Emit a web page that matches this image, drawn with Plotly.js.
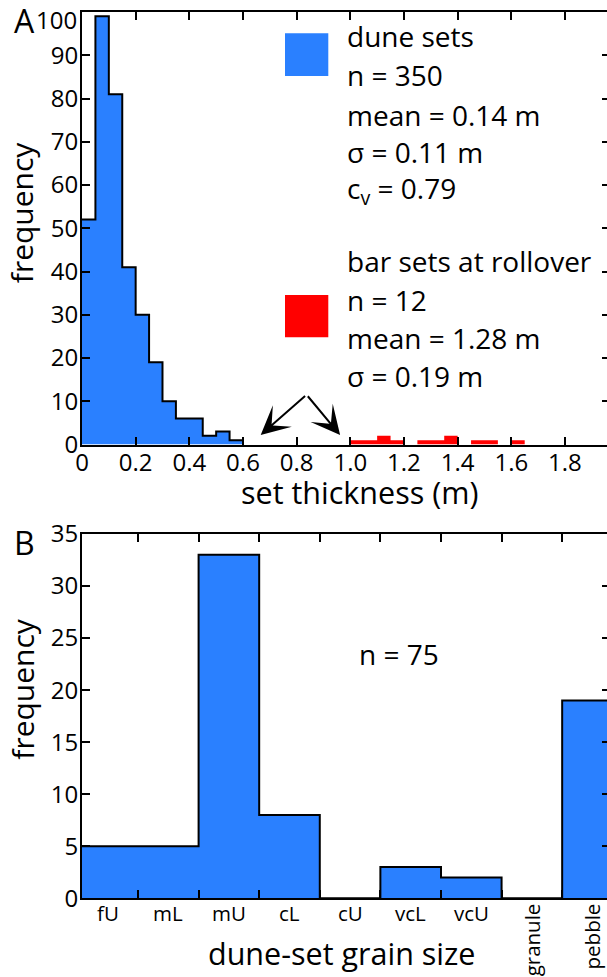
<!DOCTYPE html>
<html><head><meta charset="utf-8">
<script src="https://cdn.plot.ly/plotly-3.0.1.min.js"></script>
<style>html,body{margin:0;padding:0;overflow:hidden;background:#fff}#chart{width:617px;height:977px}</style>
</head><body><div id="chart"></div>
<script>
// ---- data ----
const duneBinEdges = [0, 0.05, 0.10, 0.15, 0.20, 0.25, 0.30, 0.35, 0.40, 0.45, 0.50, 0.55, 0.60];
const duneCounts   = [52, 99, 81, 41, 30, 19, 10, 6, 6, 2, 3, 1];
const barBinEdges  = [1.00, 1.05, 1.10, 1.15, 1.20, 1.25, 1.30, 1.35, 1.40, 1.45, 1.50, 1.55, 1.60, 1.65];
const barCounts    = [1, 1, 2, 1, 0, 1, 1, 2, 0, 1, 1, 0, 1];
const thicknessTicks    = [0, 0.2, 0.4, 0.6, 0.8, 1.0, 1.2, 1.4, 1.6, 1.8];
const thicknessTickText = ['0', '0.2', '0.4', '0.6', '0.8', '1.0', '1.2', '1.4', '1.6', '1.8'];
const freqTicksA = [0, 10, 20, 30, 40, 50, 60, 70, 80, 90, 100];
const grainCategories = ['fU', 'mL', 'mU', 'cL', 'cU', 'vcL', 'vcU', 'granule', 'pebble'];
const grainCounts     = [5, 5, 33, 8, 0, 3, 2, 0, 19];
const freqTicksB = [0, 5, 10, 15, 20, 25, 30, 35];
const duneStats = ['dune sets', 'n = 350', 'mean = 0.14 m', 'σ = 0.11 m', 'c<sub>v</sub> = 0.79'];
const barStats  = ['bar sets at rollover', 'n = 12', 'mean = 1.28 m', 'σ = 0.19 m'];
const grainN = 'n = 75';

// ---- styling ----
const W = 617, H = 977;
const BLUE = '#2a80ff', RED = '#ff0000';
const FONT = 'Open Sans';
const px = x => x / W, py = y => 1 - y / H;

const grainEdges = grainCategories.map((c, i) => i - 0.5).concat([grainCategories.length - 0.5]);
const grainIdx = grainCategories.map((c, i) => i);
// the top tick label (at the frame edge) is drawn as a separate text, nudged inside the page
const topFreqTick = freqTicksA[freqTicksA.length - 1];
const freqTickTextA = freqTicksA.map(v => v === topFreqTick ? '' : String(v));

const traces = [
  {x: duneBinEdges, y: duneCounts.concat([0]), type: 'scatter', mode: 'lines',
   line: {shape: 'hv', color: '#000', width: 2}, fill: 'tozeroy', fillcolor: BLUE,
   xaxis: 'x', yaxis: 'y', hoverinfo: 'skip'},
  {x: barBinEdges, y: barCounts.concat([0]), type: 'scatter', mode: 'lines',
   line: {shape: 'hv', color: RED, width: 0}, fill: 'tozeroy', fillcolor: RED,
   xaxis: 'x', yaxis: 'y', hoverinfo: 'skip'},
  {x: grainEdges, y: grainCounts.concat([0]), type: 'scatter', mode: 'lines',
   line: {shape: 'hv', color: '#000', width: 2}, fill: 'tozeroy', fillcolor: BLUE,
   xaxis: 'x2', yaxis: 'y2', hoverinfo: 'skip'}
];

const axisCommon = {showline: true, linecolor: '#000', linewidth: 2, mirror: 'ticks',
  ticks: 'inside', ticklen: 8, tickwidth: 2, tickcolor: '#000', showgrid: false, zeroline: false,
  tickfont: {family: FONT, size: 24, color: '#000'}, fixedrange: true, automargin: false,
  ticklabeloverflow: 'allow'};

const xDom = [px(82), px(609.5)];
const layout = {
  width: W, height: H, margin: {l: 0, r: 0, t: 0, b: 0},
  paper_bgcolor: '#fff', plot_bgcolor: '#fff', showlegend: false,
  font: {family: FONT, color: '#000'},
  xaxis: Object.assign({}, axisCommon, {domain: xDom, anchor: 'y', range: [0, 1.966],
    tickmode: 'array', tickvals: thicknessTicks, ticktext: thicknessTickText, ticklabelstandoff: -4}),
  yaxis: Object.assign({}, axisCommon, {domain: [py(444.5), py(12)], anchor: 'x', range: [0, 100],
    tickmode: 'array', tickvals: freqTicksA, ticktext: freqTickTextA, ticklabelstandoff: -3}),
  xaxis2: Object.assign({}, axisCommon, {domain: xDom, anchor: 'y2', range: [-0.424, 8.281],
    tickmode: 'array', tickvals: grainEdges.slice(1, -1), showticklabels: false}),
  yaxis2: Object.assign({}, axisCommon, {domain: [py(898.3), py(534)], anchor: 'x2', range: [0, 35],
    tickmode: 'array', tickvals: freqTicksB, ticklabelstandoff: -3}),
  shapes: [
    {type: 'rect', xref: 'paper', yref: 'paper', x0: px(285), x1: px(328.3), y0: py(76), y1: py(33.3),
     fillcolor: BLUE, line: {width: 0}},
    {type: 'rect', xref: 'paper', yref: 'paper', x0: px(285), x1: px(328.3), y0: py(337.3), y1: py(295),
     fillcolor: RED, line: {width: 0}}
  ],
  annotations: []
};

const A = layout.annotations;
function txt(text, x, y, size, opts) {
  A.push(Object.assign({text: text, xref: 'paper', yref: 'paper', x: px(x), y: py(y),
    xanchor: 'center', yanchor: 'middle', showarrow: false, borderpad: 0, borderwidth: 0,
    font: {family: FONT, size: size, color: '#000'}}, opts || {}));
}
// panel letters
txt('A', 24, 21, 32);
txt('B', 24, 542.6, 32);
// top y tick label
txt(String(topFreqTick), 77, 19.5, 24, {xanchor: 'right'});
// axis titles
txt('frequency', 21.7, 212.5, 30, {textangle: -90});
txt('frequency', 21.7, 689, 30, {textangle: -90});
txt('set thickness (m)', 360, 492, 30.5);
txt('dune-set grain size', 341, 953.4, 30.5);
// stats text
const duneY = [36.2, 74.5, 114.5, 151.8, 190.2];
duneStats.forEach((t, i) => txt(t, 346.7, duneY[i], 28, {xanchor: 'left'}));
const barY = [261.2, 299.5, 337.8, 375.5];
barStats.forEach((t, i) => txt(t, 346.7, barY[i], 28, {xanchor: 'left'}));
txt(grainN, 398.8, 654, 28);
// grain category labels
grainCategories.forEach((c, i) => {
  const rot = c.length > 4;
  A.push({text: c, xref: 'x2', yref: 'paper', x: grainIdx[i], y: rot ? py(903) : py(912.6),
    xanchor: 'center', yanchor: rot ? 'top' : 'middle', textangle: rot ? -90 : 0,
    showarrow: false, borderpad: 0, borderwidth: 0, font: {family: FONT, size: 20.5, color: '#000'}});
});
// arrows pointing to the two populations
[[0.666, 2.2], [0.962, 2.2]].forEach(p => A.push({x: p[0], y: p[1], xref: 'x', yref: 'y',
  ax: 0.837, ay: 11.5, axref: 'x', ayref: 'y', text: '', showarrow: true, arrowhead: 3,
  arrowsize: 2.4, arrowwidth: 2, arrowcolor: '#000', standoff: 0}));

Plotly.newPlot('chart', traces, layout, {displayModeBar: false, staticPlot: true});
</script></body></html>
